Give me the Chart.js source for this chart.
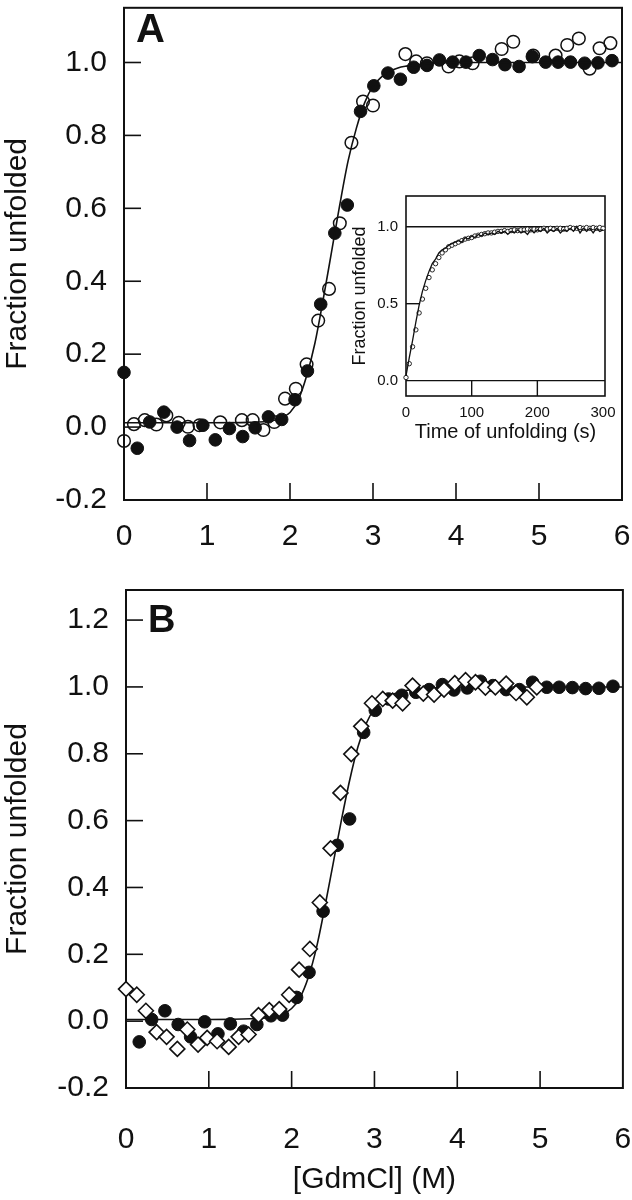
<!DOCTYPE html>
<html>
<head>
<meta charset="utf-8">
<script src="https://cdn.jsdelivr.net/npm/chart.js@4.4.1/dist/chart.umd.min.js"></script>
<style>
  body { margin: 0; background: #fff; }
  #wrap { position: relative; width: 632px; height: 1200px; overflow: hidden; }
  #wrap canvas { position: absolute; }
  .panel { position: absolute; font: bold 40px "Liberation Sans", Arial, sans-serif; line-height: 1; color: #111; }
</style>
</head>
<body>
<div id="wrap">
  <canvas id="chartA" width="632" height="560" style="left:0;top:0"></canvas>
  <canvas id="chartB" width="632" height="620" style="left:0;top:580px"></canvas>
  <canvas id="inset" width="287" height="260" style="left:345px;top:185px"></canvas>
  <div class="panel" style="left:136px;top:8px">A</div>
  <div class="panel" style="left:148px;top:600px;font-size:38px">B</div>
</div>
<script>
// tick labels
const xTicks = [0, 1, 2, 3, 4, 5, 6];
const yTicksA = [-0.2, 0, 0.2, 0.4, 0.6, 0.8, 1.0];
const yTicksB = [-0.2, 0, 0.2, 0.4, 0.6, 0.8, 1.0, 1.2];
const insetXTicks = [0, 100, 200, 300];
const insetYTicks = [0, 0.5, 1.0];

// panel A: filled circles
const aFilledX = [0.00, 0.16, 0.31, 0.48, 0.64, 0.79, 0.95, 1.10, 1.27, 1.43, 1.58, 1.74, 1.90, 2.06, 2.21, 2.37, 2.54, 2.69, 2.85, 3.01, 3.18, 3.33, 3.49, 3.65, 3.80, 3.96, 4.12, 4.28, 4.44, 4.59, 4.76, 4.92, 5.08, 5.23, 5.38, 5.55, 5.71, 5.88];
const aFilledY = [0.150, -0.058, 0.014, 0.041, 0.000, -0.037, 0.005, -0.035, -0.004, -0.026, -0.002, 0.028, 0.021, 0.075, 0.154, 0.337, 0.532, 0.609, 0.866, 0.936, 0.971, 0.954, 0.987, 0.992, 1.007, 1.001, 1.001, 1.019, 1.008, 0.994, 0.989, 1.016, 1.001, 1.001, 1.001, 0.998, 0.999, 1.005];
// panel A: open circles
const aOpenX = [0.00, 0.12, 0.25, 0.39, 0.51, 0.66, 0.77, 0.91, 1.16, 1.42, 1.55, 1.68, 1.81, 1.94, 2.07, 2.20, 2.34, 2.47, 2.60, 2.74, 2.88, 3.00, 3.39, 3.52, 3.65, 3.91, 4.04, 4.20, 4.55, 4.69, 4.93, 5.20, 5.34, 5.48, 5.61, 5.73, 5.86];
const aOpenY = [-0.038, 0.008, 0.019, 0.007, 0.032, 0.012, 0.001, 0.005, 0.013, 0.019, 0.019, -0.008, 0.014, 0.078, 0.105, 0.172, 0.292, 0.379, 0.559, 0.780, 0.893, 0.882, 1.023, 1.003, 0.998, 0.989, 1.003, 0.998, 1.037, 1.057, 1.019, 1.019, 1.048, 1.066, 0.983, 1.039, 1.053];
// panel A: fitted curve
const aFitX = [0, 0.5, 1.0, 1.5, 1.8, 1.9, 2.0, 2.1, 2.2, 2.3, 2.4, 2.5, 2.6, 2.7, 2.8, 2.9, 3.0, 3.1, 3.2, 3.3, 3.4, 3.6, 3.8, 4.0, 5.0, 6.0];
const aFitY = [0.012, 0.012, 0.012, 0.013, 0.018, 0.026, 0.040, 0.075, 0.140, 0.230, 0.350, 0.480, 0.610, 0.730, 0.820, 0.890, 0.935, 0.960, 0.975, 0.985, 0.990, 0.996, 0.999, 1.0, 1.0, 1.0];

// panel B: filled circles
const bFilledX = [0.16, 0.31, 0.47, 0.63, 0.78, 0.95, 1.11, 1.26, 1.42, 1.58, 1.75, 1.89, 2.06, 2.21, 2.38, 2.55, 2.70, 2.87, 3.01, 3.17, 3.33, 3.50, 3.66, 3.82, 3.96, 4.12, 4.28, 4.43, 4.59, 4.75, 4.91, 5.08, 5.23, 5.39, 5.55, 5.71, 5.88];
const bFilledY = [-0.062, 0.005, 0.031, -0.010, -0.047, -0.002, -0.038, -0.008, -0.030, -0.010, 0.016, 0.018, 0.071, 0.146, 0.329, 0.526, 0.605, 0.864, 0.930, 0.964, 0.975, 0.984, 0.992, 1.007, 0.991, 0.997, 1.017, 1.004, 0.992, 0.992, 1.014, 0.999, 0.999, 0.998, 0.995, 0.996, 1.002];
// panel B: open diamonds
const bDiamondX = [0.00, 0.13, 0.24, 0.37, 0.49, 0.62, 0.74, 0.87, 0.98, 1.10, 1.24, 1.36, 1.48, 1.60, 1.73, 1.85, 1.97, 2.09, 2.22, 2.34, 2.47, 2.59, 2.72, 2.84, 2.97, 3.10, 3.22, 3.34, 3.46, 3.59, 3.72, 3.84, 3.97, 4.10, 4.22, 4.34, 4.46, 4.59, 4.71, 4.84, 4.96];
const bDiamondY = [0.096, 0.079, 0.031, -0.033, -0.047, -0.083, -0.025, -0.070, -0.050, -0.060, -0.077, -0.047, -0.040, 0.018, 0.033, 0.036, 0.079, 0.154, 0.216, 0.355, 0.517, 0.683, 0.799, 0.882, 0.951, 0.964, 0.959, 0.951, 1.004, 0.980, 0.977, 0.992, 1.011, 1.020, 1.014, 0.998, 0.999, 1.010, 0.982, 0.969, 0.999];
// panel B: fitted curve
const bFitX = [0, 0.5, 1.0, 1.5, 1.8, 1.9, 2.0, 2.1, 2.2, 2.3, 2.4, 2.5, 2.6, 2.7, 2.8, 2.9, 3.0, 3.1, 3.2, 3.3, 3.4, 3.6, 3.8, 4.0, 5.0, 6.0];
const bFitY = [0.005, 0.005, 0.005, 0.007, 0.013, 0.022, 0.038, 0.070, 0.130, 0.220, 0.340, 0.470, 0.600, 0.720, 0.820, 0.890, 0.935, 0.960, 0.975, 0.985, 0.990, 0.995, 0.998, 1.0, 1.0, 1.0];

// inset: unfolding kinetics
const insetTime = [0, 5, 10, 15, 20, 25, 30, 35, 40, 45, 50, 55, 60, 65, 70, 75, 80, 85, 90, 95, 100, 105, 110, 115, 120, 125, 130, 135, 140, 145, 150, 155, 160, 165, 170, 175, 180, 185, 190, 195, 200, 205, 210, 215, 220, 225, 230, 235, 240, 245, 250, 255, 260, 265, 270, 275, 280, 285, 290, 295, 300];
const insetTrace = [0.03, 0.15, 0.26, 0.38, 0.49, 0.58, 0.65, 0.71, 0.76, 0.79, 0.83, 0.85, 0.86, 0.88, 0.89, 0.90, 0.91, 0.90, 0.93, 0.92, 0.94, 0.93, 0.95, 0.94, 0.96, 0.95, 0.96, 0.95, 0.97, 0.96, 0.97, 0.95, 0.97, 0.96, 0.98, 0.96, 0.97, 0.95, 0.98, 0.96, 0.98, 0.97, 0.99, 0.96, 0.98, 0.97, 0.99, 0.96, 0.98, 0.97, 0.99, 0.97, 1.00, 0.96, 0.99, 0.97, 0.99, 0.96, 0.99, 0.97, 0.98];
const insetDots = [0.02, 0.11, 0.22, 0.33, 0.44, 0.53, 0.60, 0.67, 0.72, 0.76, 0.80, 0.83, 0.85, 0.87, 0.88, 0.89, 0.90, 0.91, 0.92, 0.925, 0.93, 0.94, 0.945, 0.95, 0.955, 0.96, 0.96, 0.965, 0.97, 0.97, 0.975, 0.97, 0.975, 0.98, 0.975, 0.98, 0.98, 0.985, 0.98, 0.985, 0.98, 0.985, 0.99, 0.985, 0.99, 0.985, 0.99, 0.99, 0.985, 0.99, 0.995, 0.99, 0.99, 0.995, 0.99, 0.995, 0.99, 0.995, 0.99, 0.995, 0.99];

const INK = '#111';
const FONT = '"Liberation Sans", Arial, sans-serif';
Chart.defaults.font.family = FONT;
Chart.defaults.color = INK;

const pts = (xs, ys) => xs.map((x, i) => ({ x, y: ys[i] }));
const fixTicks = (list) => (s) => { s.ticks = list.map((v) => ({ value: v })); };

// frame + inward tick marks, drawn from the chart's own scales
const framePlugin = {
    id: 'frame',
    beforeDatasetsDraw(chart, args, opts) {
        const { ctx, chartArea: a, scales } = chart;
        const line = (x1, y1, x2, y2) => { ctx.beginPath(); ctx.moveTo(x1, y1); ctx.lineTo(x2, y2); ctx.stroke(); };
        ctx.save();
        ctx.strokeStyle = INK;
        ctx.lineWidth = opts.tickWidth;
        const full = opts.fullY || [];
        scales.x.ticks.forEach((t) => {
            const px = scales.x.getPixelForValue(t.value);
            if (px < a.left + 3 || px > a.right - 3) return;
            line(px, a.bottom, px, a.bottom - opts.xTickLen);
        });
        scales.y.ticks.forEach((t) => {
            if (full.includes(t.value)) return;
            const py = scales.y.getPixelForValue(t.value);
            if (py > a.bottom - 3 || py < a.top + 3) return;
            line(a.left, py, a.left + opts.yTickLen, py);
        });
        full.forEach((v) => {
            const py = scales.y.getPixelForValue(v);
            line(a.left, py, a.right, py);
        });
        ctx.lineWidth = opts.frameWidth;
        ctx.strokeRect(a.left, a.top, a.right - a.left, a.bottom - a.top);
        ctx.restore();
    },
};

function axisX(min, max, ticks, fontSize, pad, height, title) {
    return {
        type: 'linear', min, max,
        afterBuildTicks: fixTicks(ticks),
        afterFit: (s) => { s.height = height; s.paddingLeft = 0; s.paddingRight = 0; },
        grid: { display: false, drawTicks: false },
        border: { display: false },
        ticks: { font: { size: fontSize }, color: INK, padding: pad, maxRotation: 0, autoSkip: false, callback: (v) => String(v) },
        title: title || { display: false },
    };
}

function axisY(min, max, ticks, fontSize, pad, width, title) {
    return {
        type: 'linear', min, max,
        afterBuildTicks: fixTicks(ticks),
        afterFit: (s) => { s.width = width; s.paddingTop = 0; s.paddingBottom = 0; },
        grid: { display: false, drawTicks: false },
        border: { display: false },
        ticks: { font: { size: fontSize }, color: INK, padding: pad, autoSkip: false, callback: (v) => v.toFixed(1) },
        title,
    };
}

const common = {
    responsive: false,
    animation: false,
    events: [],
    plugins: { legend: { display: false }, tooltip: { enabled: false } },
};

// panel A
new Chart(document.getElementById('chartA'), {
    type: 'scatter',
    data: {
        datasets: [
            { data: pts(aFitX, aFitY), showLine: true, pointRadius: 0, borderColor: INK, borderWidth: 1.6, cubicInterpolationMode: 'monotone', order: 0, clip: false },
            { data: pts(aOpenX, aOpenY), pointRadius: 6.3, pointBackgroundColor: 'rgba(255,255,255,0)', pointBorderColor: INK, pointBorderWidth: 1.5, order: 1, clip: false },
            { data: pts(aFilledX, aFilledY), pointRadius: 6.3, pointBackgroundColor: INK, pointBorderColor: INK, pointBorderWidth: 1, order: 2, clip: false },
        ],
    },
    options: {
        ...common,
        layout: { padding: { left: 0, right: 10, top: 2, bottom: 0 } },
        scales: {
            x: axisX(0, 6, xTicks, 30, 19, 60),
            y: axisY(-0.2, 1.15, yTicksA, 30, 17, 124, { display: true, text: 'Fraction unfolded', font: { size: 30 }, color: INK, padding: { top: 0, bottom: 0 } }),
        },
        plugins: { ...common.plugins, frame: { tickWidth: 1.6, frameWidth: 2, xTickLen: 17, yTickLen: 17 } },
    },
    plugins: [framePlugin],
});

// panel B
new Chart(document.getElementById('chartB'), {
    type: 'scatter',
    data: {
        datasets: [
            { data: pts(bFitX, bFitY), showLine: true, pointRadius: 0, borderColor: INK, borderWidth: 1.6, cubicInterpolationMode: 'monotone', order: 3, clip: false },
            { data: pts(bFilledX, bFilledY), pointRadius: 6.3, pointBackgroundColor: INK, pointBorderColor: INK, pointBorderWidth: 1, order: 2, clip: false },
            { data: pts(bDiamondX, bDiamondY), pointStyle: 'rectRot', pointRadius: 7.5, pointBackgroundColor: '#fff', pointBorderColor: INK, pointBorderWidth: 1.6, order: 1, clip: false },
        ],
    },
    options: {
        ...common,
        layout: { padding: { left: 0, right: 9, top: 10, bottom: 0 } },
        scales: {
            x: axisX(0, 6, xTicks, 30, 34, 112, { display: true, text: '[GdmCl] (M)', font: { size: 30 }, color: INK, padding: { top: 0, bottom: 2 } }),
            y: axisY(-0.2, 1.29, yTicksB, 30, 17, 126, { display: true, text: 'Fraction unfolded', font: { size: 30 }, color: INK, padding: { top: 0, bottom: 0 } }),
        },
        plugins: { ...common.plugins, frame: { tickWidth: 1.6, frameWidth: 2, xTickLen: 17, yTickLen: 17 } },
    },
    plugins: [framePlugin],
});

// inset of panel A
new Chart(document.getElementById('inset'), {
    type: 'scatter',
    data: {
        datasets: [
            { data: pts(insetTime, insetTrace), showLine: true, pointRadius: 0, borderColor: INK, borderWidth: 1.3, order: 0, clip: false },
            { data: pts(insetTime, insetDots), pointRadius: 2.2, pointBackgroundColor: '#fff', pointBorderColor: INK, pointBorderWidth: 0.9, order: 1, clip: false },
        ],
    },
    options: {
        ...common,
        layout: { padding: { left: 0, right: 27, top: 11, bottom: 0 } },
        scales: {
            x: axisX(0, 303, insetXTicks, 15, 8, 49, { display: true, text: 'Time of unfolding (s)', font: { size: 20 }, color: INK, padding: { top: 0, bottom: 1 } }),
            y: axisY(-0.1, 1.2, insetYTicks, 15, 8, 61, { display: true, text: 'Fraction unfolded', font: { size: 18 }, color: INK, padding: { top: 4, bottom: 0 } }),
        },
        plugins: { ...common.plugins, frame: { tickWidth: 1.4, frameWidth: 1.6, xTickLen: 15, yTickLen: 14, fullY: [0, 1.0] } },
    },
    plugins: [framePlugin],
});
</script>
</body>
</html>
